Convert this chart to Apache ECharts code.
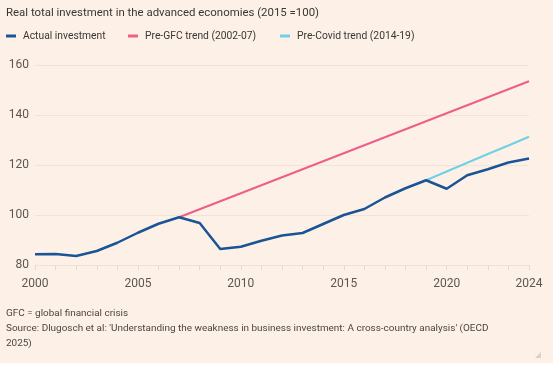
<!DOCTYPE html>
<html>
<head>
<meta charset="utf-8">
<script src="https://cdn.jsdelivr.net/npm/echarts@6/dist/echarts.min.js"></script>
<style>
html,body{margin:0;padding:0;background:#ffffff;}
#c{width:556px;height:366px;}
</style>
</head>
<body>
<div id="c"></div>
<script>
var years = ['2000','2001','2002','2003','2004','2005','2006','2007','2008','2009','2010','2011','2012','2013','2014','2015','2016','2017','2018','2019','2020','2021','2022','2023','2024'];
var actual = [84.3,84.4,83.6,85.6,88.9,92.9,96.5,99.1,96.8,86.4,87.3,89.7,91.8,92.8,96.4,100.0,102.4,107.0,110.7,113.9,110.5,115.9,118.3,121.0,122.6];
var preGFC = [null,null,null,null,null,null,null,99.1,102.3,105.5,108.7,111.9,115.1,118.3,121.5,124.7,127.9,131.1,134.3,137.5,140.7,143.9,147.1,150.3,153.5];
var preCovid = [null,null,null,null,null,null,null,null,null,null,null,null,null,null,null,null,null,null,null,113.9,117.4,120.9,124.4,127.8,131.3];
var yTicks = [80,100,120,140,160];
var titleText = 'Real total investment in the advanced economies (2015 =100)';
var seriesNames = ['Actual investment','Pre-GFC trend (2002-07)','Pre-Covid trend (2014-19)'];
var footLines = ['GFC = global financial crisis', "Source: Dlugosch et al: 'Understanding the weakness in business investment: A cross-country analysis' (OECD", '2025)'];

var cv = document.createElement('canvas').getContext('2d');
function w(txt, fam, size){ cv.font = size + 'px ' + fam; return cv.measureText(txt).width; }
var tfam = 'Roboto, "Noto Sans", sans-serif';
function fit(txt, fam, target){ return 20 * target / w(txt, fam, 20); }
var titleSize = Math.min(14, fit(titleText, tfam, 313));
var legSize = Math.min(13, (fit(seriesNames[0], tfam, 79) + fit(seriesNames[1], tfam, 113) + fit(seriesNames[2], tfam, 121)) / 3);
var footSize = Math.min(12.5, fit(footLines[1], tfam, 483));

var legendLefts = [6, 128, 280];
var chart = echarts.init(document.getElementById('c'), null, {renderer:'canvas'});
chart.setOption({
  backgroundColor: 'transparent',
  animation: false,
  graphic: [
    {type:'rect', left:0, top:0, shape:{width:553, height:363}, style:{fill:'#fdf1e7'}, z:-10},
    {type:'polygon', shape:{points:[[541,352],[541,358],[535,358]]}, style:{fill:'#d9d2cc'}},
    {type:'text', left:6, top:8, style:{text:titleText, font:titleSize.toFixed(2)+'px '+tfam, fill:'#3a3633'}},
    {type:'text', left:6, top:306, style:{text:footLines.join('\n'), font:footSize.toFixed(2)+'px '+tfam, fill:'#4a4541', lineHeight:15}}
  ],
  legend: seriesNames.map(function(n, i){
    return {
      left: legendLefts[i], top: 31, padding: 0,
      itemWidth: 10, itemHeight: 3, icon: 'rect',
      textStyle: {fontFamily: tfam, fontSize: legSize, color: '#3a3633', padding:[0,0,0,2]},
      data: [n]
    };
  }),
  grid: {left: 35, right: 27, top: 65, bottom: 101},
  xAxis: {
    type: 'category', data: years, boundaryGap: false,
    axisLine: {show: false},
    axisTick: {show: true, interval: 0, length: 5, lineStyle: {color: '#e6dad0'}},
    axisLabel: {
      interval: function(i){ return i % 5 === 0 || i === years.length - 1; },
      margin: 13, fontFamily: tfam, fontSize: 12, color: '#5c5652'
    },
    splitLine: {show: false}
  },
  yAxis: {
    type: 'value', min: yTicks[0], max: yTicks[yTicks.length-1], interval: 20,
    axisLine: {show: false}, axisTick: {show: false},
    axisLabel: {margin: 6, fontFamily: tfam, fontSize: 12, color: '#5c5652'},
    splitLine: {lineStyle: {color: '#f1e3d7', width: 1}}
  },
  series: [
    {name: seriesNames[1], type: 'line', data: preGFC, color: '#eb5f88', symbol: 'none', lineStyle: {width: 2}, z: 2},
    {name: seriesNames[2], type: 'line', data: preCovid, color: '#70d0e6', symbol: 'none', lineStyle: {width: 2}, z: 2},
    {name: seriesNames[0], type: 'line', data: actual, color: '#1a5396', symbol: 'none', lineStyle: {width: 2.5}, z: 3}
  ]
});
</script>
</body>
</html>
